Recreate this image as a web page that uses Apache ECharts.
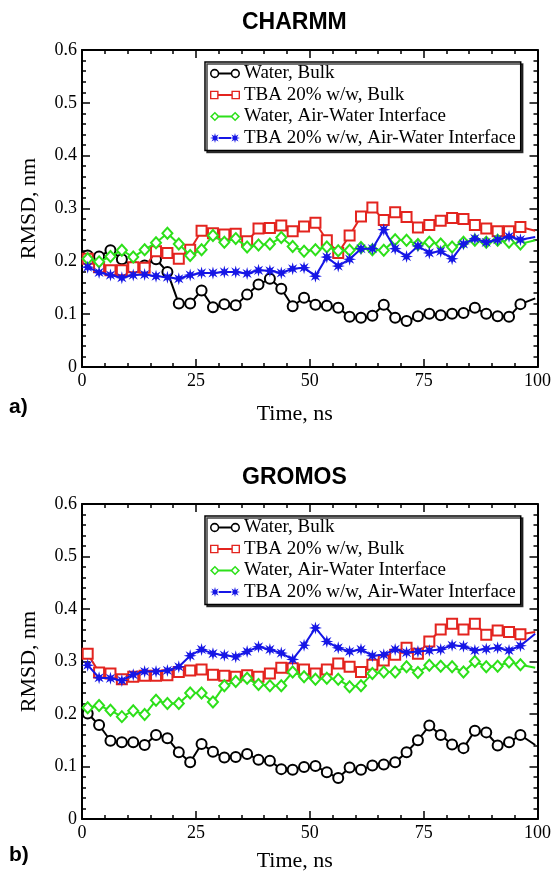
<!DOCTYPE html>
<html>
<head>
<meta charset="utf-8">
<script src="https://cdn.jsdelivr.net/npm/echarts@6/dist/echarts.min.js"></script>
<style>
  html, body { margin: 0; padding: 0; background: #fff; }
  #chart { width: 554px; height: 882px; }
</style>
</head>
<body>
<div id="chart"></div>
<script>
// marker times (ns); last entry is the line end, drawn without a marker
const time = [1.25, 3.75, 6.25, 8.75, 11.25, 13.75, 16.25, 18.75, 21.25, 23.75,
  26.25, 28.75, 31.25, 33.75, 36.25, 38.75, 41.25, 43.75, 46.25, 48.75,
  51.25, 53.75, 56.25, 58.75, 61.25, 63.75, 66.25, 68.75, 71.25, 73.75,
  76.25, 78.75, 81.25, 83.75, 86.25, 88.75, 91.25, 93.75, 96.25, 99.5];

const seriesNames = ["Water, Bulk", "TBA 20% w/w, Bulk", "Water, Air-Water Interface", "TBA 20% w/w, Air-Water Interface"];
const panelTitles = ["CHARMM", "GROMOS"];
const panelTags = ["a)", "b)"];
const xTicks = [0, 25, 50, 75, 100];
const yTicks = [0, 0.1, 0.2, 0.3, 0.4, 0.5, 0.6];

// CHARMM
const charmmWaterBulk = [0.211, 0.209, 0.221, 0.204, 0.19, 0.192, 0.204, 0.18, 0.12, 0.12,
  0.145, 0.113, 0.119, 0.117, 0.137, 0.156, 0.167, 0.148, 0.115, 0.131,
  0.118, 0.116, 0.112, 0.095, 0.093, 0.097, 0.118, 0.093, 0.087, 0.096,
  0.101, 0.098, 0.101, 0.102, 0.112, 0.101, 0.096, 0.095, 0.119, 0.13];
const charmmTbaBulk = [0.205, 0.189, 0.183, 0.183, 0.189, 0.188, 0.219, 0.216, 0.205, 0.222,
  0.258, 0.253, 0.251, 0.252, 0.238, 0.262, 0.263, 0.268, 0.257, 0.266,
  0.273, 0.24, 0.216, 0.249, 0.285, 0.302, 0.278, 0.293, 0.284, 0.264,
  0.269, 0.277, 0.282, 0.28, 0.269, 0.262, 0.257, 0.257, 0.265, 0.258];
const charmmWaterAir = [0.205, 0.199, 0.209, 0.221, 0.208, 0.222, 0.235, 0.253, 0.233, 0.211,
  0.222, 0.249, 0.236, 0.243, 0.227, 0.231, 0.233, 0.245, 0.228, 0.219,
  0.222, 0.227, 0.22, 0.221, 0.226, 0.222, 0.221, 0.241, 0.24, 0.232,
  0.236, 0.233, 0.227, 0.236, 0.24, 0.236, 0.24, 0.236, 0.233, 0.24];
const charmmTbaAir = [0.189, 0.179, 0.174, 0.169, 0.174, 0.175, 0.172, 0.17, 0.167, 0.174,
  0.178, 0.178, 0.18, 0.18, 0.177, 0.183, 0.182, 0.178, 0.186, 0.188,
  0.172, 0.208, 0.191, 0.204, 0.224, 0.224, 0.26, 0.224, 0.209, 0.229,
  0.216, 0.219, 0.205, 0.233, 0.243, 0.236, 0.241, 0.247, 0.241, 0.246];

// GROMOS
const gromosWaterBulk = [0.201, 0.179, 0.149, 0.146, 0.146, 0.141, 0.16, 0.154, 0.127, 0.108,
  0.143, 0.128, 0.117, 0.118, 0.124, 0.113, 0.111, 0.095, 0.094, 0.099,
  0.101, 0.089, 0.078, 0.098, 0.094, 0.102, 0.104, 0.108, 0.127, 0.15,
  0.178, 0.16, 0.142, 0.135, 0.168, 0.165, 0.14, 0.146, 0.16, 0.141];
const gromosTbaBulk = [0.315, 0.279, 0.277, 0.266, 0.271, 0.273, 0.273, 0.274, 0.28, 0.283,
  0.285, 0.275, 0.273, 0.271, 0.274, 0.271, 0.277, 0.288, 0.287, 0.285,
  0.277, 0.285, 0.296, 0.29, 0.28, 0.294, 0.302, 0.313, 0.326, 0.315,
  0.338, 0.361, 0.372, 0.361, 0.372, 0.351, 0.359, 0.356, 0.352, 0.356];
const gromosWaterAir = [0.212, 0.216, 0.207, 0.195, 0.206, 0.199, 0.226, 0.22, 0.22, 0.24,
  0.24, 0.223, 0.254, 0.262, 0.268, 0.256, 0.254, 0.254, 0.28, 0.271,
  0.266, 0.268, 0.266, 0.252, 0.254, 0.277, 0.28, 0.28, 0.29, 0.279,
  0.293, 0.291, 0.29, 0.28, 0.3, 0.29, 0.291, 0.299, 0.294, 0.288];
const gromosTbaAir = [0.293, 0.269, 0.268, 0.264, 0.275, 0.281, 0.281, 0.283, 0.29, 0.311,
  0.323, 0.315, 0.312, 0.309, 0.319, 0.328, 0.323, 0.316, 0.304, 0.331,
  0.364, 0.338, 0.326, 0.319, 0.323, 0.311, 0.313, 0.323, 0.317, 0.319,
  0.321, 0.323, 0.331, 0.329, 0.321, 0.324, 0.326, 0.321, 0.33, 0.353];

const panels = [
  [charmmWaterBulk, charmmTbaBulk, charmmWaterAir, charmmTbaAir],
  [gromosWaterBulk, gromosTbaBulk, gromosWaterAir, gromosTbaAir]
];

(function () {
  const chart = echarts.init(document.getElementById("chart"));
  const serif = "'Liberation Serif', 'Times New Roman', serif";
  const sans = "'Liberation Sans', Arial, sans-serif";
  const colors = ["#000000", "#e3241f", "#2de01a", "#1616e6"];

  // star (asterisk-like) marker, as a path centred on (cx, cy)
  function starPath(cx, cy, R, r) {
    let d = "";
    for (let i = 0; i < 16; i++) {
      const a = (i * Math.PI) / 8;
      const rad = i % 2 === 0 ? R : r;
      d += (i === 0 ? "M" : "L") + (cx + rad * Math.cos(a)).toFixed(2) + "," + (cy + rad * Math.sin(a)).toFixed(2);
    }
    return d + "Z";
  }
  function ring(cx) {
    return "M" + (cx - 4.5) + ",5A4.5,4.5,0,1,1," + (cx + 4.5) + ",5A4.5,4.5,0,1,1," + (cx - 4.5) + ",5Z" +
      "M" + (cx - 3) + ",5A3,3,0,1,0," + (cx + 3) + ",5A3,3,0,1,0," + (cx - 3) + ",5Z";
  }
  function square(cx) {
    return "M" + (cx - 4) + ",1L" + (cx + 4) + ",1L" + (cx + 4) + ",9L" + (cx - 4) + ",9Z" +
      "M" + (cx - 2.7) + ",2.3L" + (cx - 2.7) + ",7.7L" + (cx + 2.7) + ",7.7L" + (cx + 2.7) + ",2.3Z";
  }
  function diamond(cx) {
    return "M" + cx + ",0.2L" + (cx + 4.8) + ",5L" + cx + ",9.8L" + (cx - 4.8) + ",5Z" +
      "M" + cx + ",2.4L" + (cx - 2.6) + ",5L" + cx + ",7.6L" + (cx + 2.6) + ",5Z";
  }
  const link = "M9,4.1L21,4.1L21,5.9L9,5.9Z";
  const legendIcons = [
    "path://" + ring(5) + ring(25) + link,
    "path://" + square(5) + square(25) + link,
    "path://" + diamond(5) + diamond(25) + link,
    "path://" + starPath(5, 5, 5, 2.1) + starPath(25, 5, 5, 2.1) + link
  ];
  const markers = [
    { symbol: "emptyCircle", symbolSize: 10, borderWidth: 2 },
    { symbol: "emptyRect", symbolSize: 10, borderWidth: 1.6 },
    { symbol: "emptyDiamond", symbolSize: [10, 11], borderWidth: 2 },
    { symbol: "path://" + starPath(10, 10, 10, 4.2), symbolSize: 13, borderWidth: 0 }
  ];

  const grids = [
    { left: 82, top: 50, width: 456, height: 317 },
    { left: 82, top: 504, width: 456, height: 315 }
  ];
  const nameGaps = [36, 31];

  const lineStyle = { color: "#000", width: 2 };
  const tickStyle = { color: "#000", width: 1.5 };

  const xAxis = [];
  const yAxis = [];
  grids.forEach(function (g, gi) {
    xAxis.push({
      type: "value", gridIndex: gi, position: "bottom",
      min: xTicks[0], max: xTicks[xTicks.length - 1], interval: 25,
      name: "Time, ns", nameLocation: "middle", nameGap: nameGaps[gi],
      nameTextStyle: { fontFamily: serif, fontSize: 22, color: "#000", padding: [0, 30, 0, 0] },
      axisLine: { onZero: false, lineStyle: lineStyle },
      axisTick: { inside: true, length: 8, lineStyle: tickStyle },
      minorTick: { show: true, splitNumber: 5, length: 4, lineStyle: tickStyle },
      axisLabel: { fontFamily: serif, fontSize: 18, color: "#000", margin: 5 },
      splitLine: { show: false }
    });
    xAxis.push({
      type: "value", gridIndex: gi, position: "top",
      min: xTicks[0], max: xTicks[xTicks.length - 1], interval: 25,
      axisLine: { onZero: false, lineStyle: lineStyle },
      axisTick: { inside: true, length: 8, lineStyle: tickStyle },
      minorTick: { show: true, splitNumber: 5, length: 4, lineStyle: tickStyle },
      axisLabel: { show: false },
      splitLine: { show: false }
    });
    yAxis.push({
      type: "value", gridIndex: gi, position: "left",
      min: yTicks[0], max: yTicks[yTicks.length - 1], interval: 0.1,
      name: "RMSD, nm", nameLocation: "middle", nameGap: 42,
      nameTextStyle: { fontFamily: serif, fontSize: 22, color: "#000" },
      axisLine: { onZero: false, lineStyle: lineStyle },
      axisTick: { inside: true, length: 8, lineStyle: tickStyle },
      minorTick: { show: true, splitNumber: 5, length: 4, lineStyle: tickStyle },
      axisLabel: { fontFamily: serif, fontSize: 18, color: "#000", margin: 5 },
      splitLine: { show: false }
    });
    yAxis.push({
      type: "value", gridIndex: gi, position: "right",
      min: yTicks[0], max: yTicks[yTicks.length - 1], interval: 0.1,
      axisLine: { onZero: false, lineStyle: lineStyle },
      axisTick: { inside: true, length: 8, lineStyle: tickStyle },
      minorTick: { show: true, splitNumber: 5, length: 4, lineStyle: tickStyle },
      axisLabel: { show: false },
      splitLine: { show: false }
    });
  });

  const series = [];
  panels.forEach(function (sets, gi) {
    sets.forEach(function (vals, si) {
      const m = markers[si];
      const data = vals.map(function (v, i) {
        if (i === vals.length - 1) return { value: [time[i], v], symbol: "none" };
        return [time[i], v];
      });
      series.push({
        type: "line",
        name: seriesNames[si],
        xAxisIndex: gi * 2,
        yAxisIndex: gi * 2,
        data: data,
        symbol: m.symbol,
        symbolSize: m.symbolSize,
        showAllSymbol: true,
        color: colors[si],
        lineStyle: { color: colors[si], width: 2 },
        itemStyle: { color: colors[si], borderColor: colors[si], borderWidth: m.borderWidth },
        z: 2 + si
      });
    });
  });

  const legendData = seriesNames.map(function (n, i) {
    return { name: n, icon: legendIcons[i], itemStyle: { color: colors[i], borderWidth: 0 } };
  });
  function legendAt(top) {
    return {
      left: 205, top: top, orient: "vertical",
      data: legendData,
      itemWidth: 30, itemHeight: 10.5, itemGap: 2.5,
      padding: [2, 5, 3, 5],
      backgroundColor: "#fff",
      borderColor: "#000", borderWidth: 1.5,
      shadowColor: "rgba(0,0,0,0.75)", shadowOffsetX: 2, shadowOffsetY: 2, shadowBlur: 0,
      selectedMode: false,
      textStyle: { fontFamily: serif, fontSize: 19, color: "#000", lineHeight: 19, padding: [0, 0, 0, -1] }
    };
  }

  const titleStyle = { fontFamily: sans, fontWeight: "bold", fontSize: 23, color: "#000" };
  const tagStyle = { fontFamily: sans, fontWeight: "bold", fontSize: 21, color: "#000" };

  chart.setOption({
    animation: false,
    backgroundColor: "#fff",
    title: [
      { text: panelTitles[0], left: 242, top: 11, padding: 0, textStyle: titleStyle },
      { text: panelTitles[1], left: 242, top: 466, padding: 0, textStyle: titleStyle },
      { text: panelTags[0], left: 9, top: 397, padding: 0, textStyle: tagStyle },
      { text: panelTags[1], left: 9, top: 845, padding: 0, textStyle: tagStyle }
    ],
    legend: [legendAt(62), legendAt(516)],
    grid: grids,
    xAxis: xAxis,
    yAxis: yAxis,
    series: series
  });
})();
</script>
</body>
</html>
